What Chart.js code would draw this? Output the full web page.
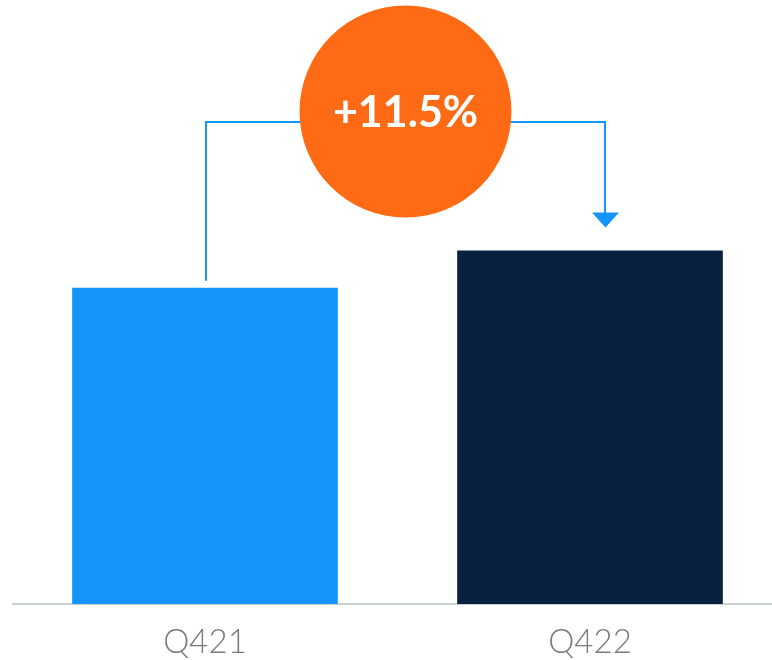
<!DOCTYPE html>
<html>
<head>
<meta charset="utf-8">
<script src="https://cdn.jsdelivr.net/npm/chart.js@4/dist/chart.umd.min.js"></script>
<style>
  html, body { margin: 0; padding: 0; background: #fff; overflow: hidden; }
  #wrap { position: relative; width: 790px; height: 660px; }
</style>
</head>
<body>
<div id="wrap"><canvas id="myChart" width="790" height="660"></canvas></div>
<script>
const quarters = ['Q421', 'Q422'];
const values = [100, 111.8];          // indexed, Q421 = 100
const growthLabel = '+11.5%';
const barColors = ['#1594fa', '#0a2040'];

const BLUE = '#1594fa';
const ORANGE = '#ff6a14';

// draws the bracket arrow from bar 1 to bar 2 with the orange growth bubble
const growthBubble = {
  id: 'growthBubble',
  afterDatasetsDraw(chart) {
    const { ctx, scales: { x, y } } = chart;
    const x1 = x.getPixelForValue(0);
    const x2 = x.getPixelForValue(1);
    const top1 = y.getPixelForValue(values[0]);
    const top2 = y.getPixelForValue(values[1]);
    const lineY = 122;
    const cx = (x1 + x2) / 2 + 8;
    const cy = 111.5;
    const r = 106;

    ctx.save();
    ctx.strokeStyle = BLUE;
    ctx.lineWidth = 2;
    ctx.beginPath();
    ctx.moveTo(x1 + 1, top1 - 7);
    ctx.lineTo(x1 + 1, lineY);
    ctx.lineTo(x2 + 15, lineY);
    ctx.lineTo(x2 + 15, top2 - 36);
    ctx.stroke();

    // arrow head
    ctx.fillStyle = BLUE;
    ctx.beginPath();
    ctx.moveTo(x2 + 2, top2 - 38);
    ctx.lineTo(x2 + 29, top2 - 38);
    ctx.lineTo(x2 + 15.5, top2 - 23);
    ctx.closePath();
    ctx.fill();

    ctx.fillStyle = ORANGE;
    ctx.beginPath();
    ctx.arc(cx, cy, r, 0, Math.PI * 2);
    ctx.fill();

    ctx.fillStyle = '#ffffff';
    ctx.font = 'bold 43px Lato, sans-serif';
    ctx.textAlign = 'center';
    ctx.textBaseline = 'middle';
    ctx.fillText(growthLabel, cx, cy + 2);
    ctx.restore();
  },
};

const config = {
  type: 'bar',
  data: {
    labels: quarters,
    datasets: [
      {
        data: values,
        backgroundColor: barColors,
        barPercentage: 0.69,
        categoryPercentage: 1,
      },
    ],
  },
  options: {
    responsive: false,
    animation: false,
    layout: { padding: { left: 12.5, right: 7.5, top: 0, bottom: 0 } },
    plugins: {
      legend: { display: false },
      title: { display: false },
      tooltip: { enabled: false },
    },
    scales: {
      x: {
        grid: { display: false, drawTicks: false },
        border: { display: true, color: '#c8d1d1', width: 2 },
        ticks: {
          color: '#7b7b7b',
          font: { family: 'Lato, sans-serif', size: 33, weight: 300 },
          padding: 19,
        },
        afterFit(scale) {
          scale.height = 56;
        },
      },
      y: {
        display: false,
        min: 0,
        max: 191,
      },
    },
  },
  plugins: [growthBubble],
};

new Chart(document.getElementById('myChart'), config);
</script>
</body>
</html>
